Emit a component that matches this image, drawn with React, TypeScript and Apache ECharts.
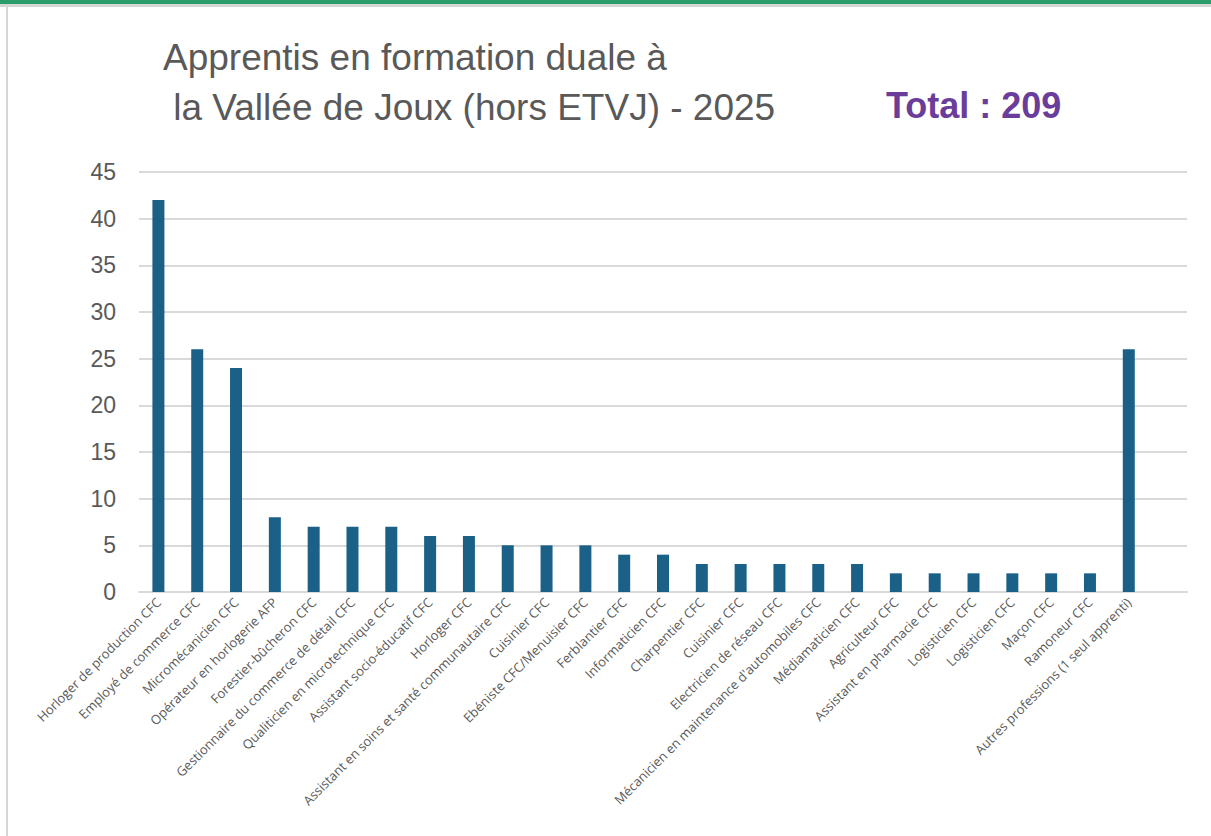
import React, { useEffect, useRef } from "react";
import * as echarts from "echarts";

const categories = [
  "Horloger de production CFC",
  "Employé de commerce CFC",
  "Micromécanicien CFC",
  "Opérateur en horlogerie AFP",
  "Forestier-bûcheron CFC",
  "Gestionnaire du commerce de détail CFC",
  "Qualiticien en microtechnique CFC",
  "Assistant socio-éducatif CFC",
  "Horloger CFC",
  "Assistant en soins et santé communautaire CFC",
  "Cuisinier CFC",
  "Ebéniste CFC/Menuisier CFC",
  "Ferblantier CFC",
  "Informaticien CFC",
  "Charpentier CFC",
  "Cuisinier CFC",
  "Electricien de réseau CFC",
  "Mécanicien en maintenance d'automobiles CFC",
  "Médiamaticien CFC",
  "Agriculteur CFC",
  "Assistant en pharmacie CFC",
  "Logisticien CFC",
  "Logisticien CFC",
  "Maçon CFC",
  "Ramoneur CFC",
  "Autres professions (1 seul apprenti)",
];

const apprentices = [42, 26, 24, 8, 7, 7, 7, 6, 6, 5, 5, 5, 4, 4, 3, 3, 3, 3, 3, 2, 2, 2, 2, 2, 2, 26];

const yTicks = { min: 0, max: 45, interval: 5 };

const titleLines = ["Apprentis en formation duale à", " la Vallée de Joux (hors ETVJ) - 2025"];
const totalText = "Total : 209";

export default function App() {
  const ref = useRef<HTMLDivElement>(null);
  useEffect(() => {
    document.body.style.margin = "0";
    if (!ref.current) return;
    const chart = echarts.init(ref.current, undefined, { renderer: "svg" });
    chart.setOption({
      animation: false,
      backgroundColor: "#ffffff",
      graphic: [
        { type: "rect", left: 0, top: 0, shape: { width: 1211, height: 4 }, style: { fill: "#2a9d6b" } },
        { type: "rect", left: 0, top: 4, shape: { width: 1211, height: 3 }, style: { fill: "#d6d6d6" } },
        { type: "rect", left: 6, top: 4, shape: { width: 2, height: 832 }, style: { fill: "#d6d6d6" } },
        {
          type: "text",
          left: 163,
          top: 32,
          style: {
            text: titleLines.join("\n"),
            fill: "#595959",
            font: '37px "Liberation Sans", Arial, sans-serif',
            lineHeight: 50,
          },
        },
        {
          type: "text",
          left: 886,
          top: 87,
          style: {
            text: totalText,
            fill: "#6a3d9a",
            font: 'bold 36px "Liberation Sans", Arial, sans-serif',
          },
        },
      ],
      grid: { left: 139, right: 24, top: 172, bottom: 244, containLabel: false },
      xAxis: {
        type: "category",
        data: categories,
        max: categories.length,
        axisLine: { show: true, lineStyle: { color: "#d9d9d9", width: 2 } },
        axisTick: { show: false },
        axisLabel: {
          rotate: 45,
          interval: 0,
          margin: 8,
          color: "#595959",
          fontSize: 13,
          fontFamily: '"Open Sans", sans-serif',
          formatter: (v: string, i: number) => (i < categories.length && v ? v : ""),
        },
      },
      yAxis: {
        type: "value",
        min: yTicks.min,
        max: yTicks.max,
        interval: yTicks.interval,
        axisLine: { show: false },
        axisTick: { show: false },
        splitLine: { lineStyle: { color: "#d9d9d9", width: 2 } },
        axisLabel: {
          color: "#595959",
          fontSize: 23,
          fontFamily: '"Liberation Sans", Arial, sans-serif',
          margin: 23,
        },
      },
      series: [
        {
          type: "bar",
          data: apprentices,
          barWidth: 12,
          itemStyle: { color: "#1b6187" },
        },
      ],
    });
    return () => chart.dispose();
  }, []);
  return <div ref={ref} style={{ width: 1211, height: 836 }} />;
}
